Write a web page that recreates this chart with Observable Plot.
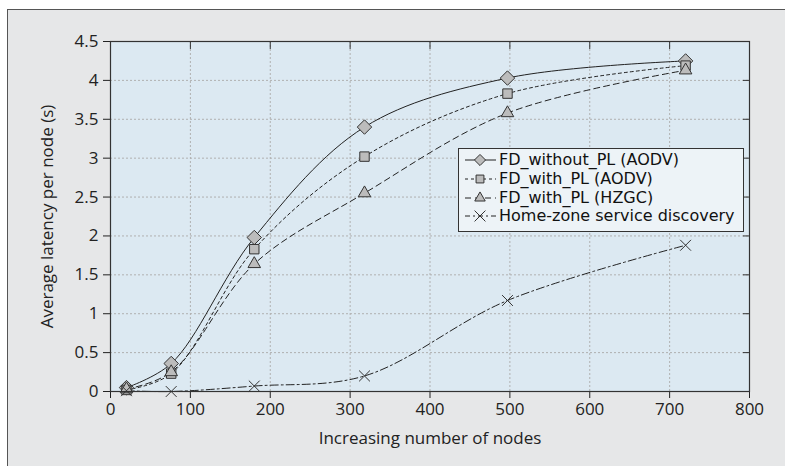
<!DOCTYPE html>
<html><head><meta charset="utf-8">
<script src="https://cdn.jsdelivr.net/npm/d3@7"></script>
<script src="https://cdn.jsdelivr.net/npm/@observablehq/plot@0.6"></script>
<style>
body{margin:0;background:#fff;font-family:"Open Sans",sans-serif;}
#wrap{position:relative;width:785px;height:466px;overflow:hidden;}
#panel{position:absolute;left:7px;top:9px;width:800px;height:480px;background:#e6e7e8;border-left:1.5px solid #555;border-top:1.5px solid #555;}
#chart{position:absolute;left:0;top:0;}
#legend{position:absolute;left:458px;top:148px;width:286px;height:84px;background:#edf3f7;border:1px solid #333;box-sizing:border-box;padding-top:2px;font-family:"DejaVu Sans",sans-serif;font-size:16px;color:#111;}
.row{display:flex;align-items:center;height:18.7px;white-space:nowrap;}
.row svg{flex:none;}
.row span{display:block;line-height:18px;height:18px;}
</style></head>
<body>
<div id="wrap"><div id="panel"></div><div id="chart"></div><div id="legend"></div></div>
<script>
// ---- data ----
const nodes = [20, 76, 180, 318, 497, 720];
const fdWithoutPlAodv = [0.05, 0.36, 1.98, 3.40, 4.03, 4.25];
const fdWithPlAodv    = [0.02, 0.23, 1.83, 3.02, 3.83, 4.19];
const fdWithPlHzgc    = [0.03, 0.25, 1.64, 2.55, 3.58, 4.13];
const homeZone        = [0.01, 0.00, 0.07, 0.20, 1.17, 1.88];
const seriesNames = ["FD_without_PL (AODV)", "FD_with_PL (AODV)", "FD_with_PL (HZGC)", "Home-zone service discovery"];
const xTicks = [0, 100, 200, 300, 400, 500, 600, 700, 800];
const yTicks = [0, 0.5, 1, 1.5, 2, 2.5, 3, 3.5, 4, 4.5];

const styles = [
  {symbol: "diamond2", d3sym: d3.symbolDiamond2, dash: null, legendDash: null, r: 6.5},
  {symbol: "square2", d3sym: d3.symbolSquare2, dash: "3,3", legendDash: "3,3", r: 6},
  {symbol: "triangle2", d3sym: d3.symbolTriangle2, dash: "6,4", legendDash: "6,4", r: 6},
  {symbol: "times", d3sym: d3.symbolTimes, dash: "8,3,2,3", legendDash: "5,3,2,3", r: 5}
];
const valueSets = [fdWithoutPlAodv, fdWithPlAodv, fdWithPlHzgc, homeZone];

const marks = [
  Plot.frame({fill: "#dce9f2"}),
  Plot.gridX(xTicks, {stroke: "#b0b0b0", strokeOpacity: 1, strokeDasharray: "2,2"}),
  Plot.gridY(yTicks, {stroke: "#b0b0b0", strokeOpacity: 1, strokeDasharray: "2,2"})
];
valueSets.forEach((vals, k) => {
  const rows = nodes.map((n, i) => ({nodes: n, latency: vals[i]}));
  marks.push(Plot.line(rows, {x: "nodes", y: "latency", curve: "catmull-rom", stroke: "#222", strokeWidth: 1, strokeDasharray: styles[k].dash}));
});
valueSets.forEach((vals, k) => {
  const rows = nodes.map((n, i) => ({nodes: n, latency: vals[i]}));
  const s = styles[k];
  marks.push(Plot.dot(rows, {x: "nodes", y: "latency", symbol: () => s.symbol, r: s.r,
    fill: s.symbol === "times" ? "none" : "#bcbcbc", stroke: "#333", strokeWidth: 1}));
});
marks.push(
  Plot.axisX(xTicks, {anchor: "bottom", tickSize: 7, tickPadding: 4, fontSize: 17, color: "#222",
    label: "Increasing number of nodes", labelAnchor: "center", labelArrow: "none", labelOffset: 52}),
  Plot.axisX(xTicks, {anchor: "top", tickSize: 7, dy: 7, text: null, label: null, color: "#333"}),
  Plot.axisY(yTicks, {anchor: "left", tickSize: 7, tickPadding: 5, fontSize: 17, color: "#222",
    tickFormat: d3.format("~g"),
    label: "Average latency per node (s)", labelAnchor: "center", labelArrow: "none", labelOffset: 70}),
  Plot.axisY(yTicks, {anchor: "right", tickSize: 7, dx: -7, text: null, label: null, color: "#333"}),
  Plot.frame({stroke: "#333", strokeWidth: 1.2})
);

const chart = Plot.plot({
  width: 785, height: 466,
  marginLeft: 110, marginRight: 36, marginTop: 41, marginBottom: 75,
  style: {background: "transparent", fontFamily: "'Open Sans', sans-serif", fontSize: "17.5px", color: "#222"},
  x: {domain: [0, 800]},
  y: {domain: [0, 4.5]},
  marks
});
document.getElementById("chart").append(chart);

// ---- legend ----
const legend = document.getElementById("legend");
seriesNames.forEach((name, k) => {
  const s = styles[k];
  const row = document.createElement("div");
  row.className = "row";
  const svg = d3.create("svg").attr("width", 40).attr("height", 18);
  svg.append("line").attr("x1", 6).attr("x2", 37).attr("y1", 9).attr("y2", 9)
    .attr("stroke", "#222").attr("stroke-width", 1).attr("stroke-dasharray", s.legendDash);
  svg.append("path").attr("d", d3.symbol(s.d3sym, Math.PI * 5 * 5)())
    .attr("transform", "translate(21,9)")
    .attr("fill", s.symbol === "times" ? "none" : "#bcbcbc").attr("stroke", "#333").attr("stroke-width", 1);
  row.append(svg.node());
  const span = document.createElement("span");
  span.textContent = name;
  row.append(span);
  legend.append(row);
});
</script>
</body></html>
